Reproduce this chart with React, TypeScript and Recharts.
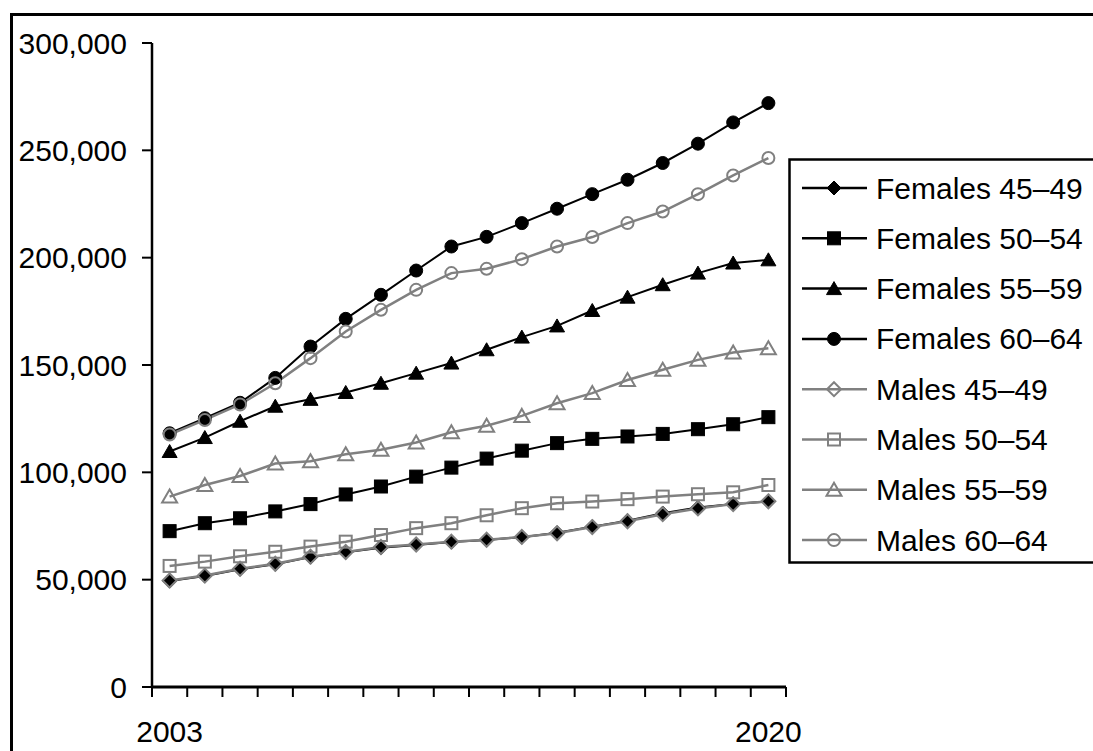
import { LineChart, Line, XAxis, YAxis } from 'recharts'

const years = [2003, 2004, 2005, 2006, 2007, 2008, 2009, 2010, 2011, 2012, 2013, 2014, 2015, 2016, 2017, 2018, 2019, 2020]
const yearLabels = [2003, 2020]
const yTicks = [0, 50000, 100000, 150000, 200000, 250000, 300000]

const females4549 = [49400, 51700, 54900, 57200, 60500, 62800, 64900, 66200, 67500, 68500, 69800, 71900, 74700, 77500, 81000, 83600, 85300, 86400]
const females5054 = [72600, 76300, 78600, 81800, 85200, 89700, 93400, 98000, 102200, 106400, 110100, 113600, 115600, 116700, 117900, 120100, 122400, 125700]
const females5559 = [109700, 116200, 123800, 130800, 134000, 137200, 141500, 146200, 150900, 157100, 163000, 168200, 175400, 181600, 187400, 192800, 197500, 199000]
const females6064 = [118200, 125200, 132400, 144000, 158600, 171500, 182700, 194000, 205200, 209700, 216100, 222800, 229600, 236300, 244100, 253100, 263000, 272000]
const males4549 = [49600, 51900, 55100, 57400, 60700, 62900, 65200, 66400, 67700, 68600, 69900, 71600, 74500, 77200, 80500, 83200, 85200, 86500]
const males5054 = [56400, 58400, 60900, 63000, 65400, 67700, 70800, 74000, 76300, 80000, 83300, 85600, 86400, 87500, 88700, 89800, 90700, 94100]
const males5559 = [88700, 94100, 98300, 104100, 105200, 108400, 110500, 113900, 118700, 121700, 126300, 132200, 136900, 143000, 147800, 152400, 155800, 157800]
const males6064 = [117600, 124400, 131600, 141500, 153200, 165600, 175700, 185000, 192800, 194800, 199300, 205200, 209600, 216100, 221500, 229600, 238300, 246400]

// tick marks sit between the years, like the category axis in the original
const xTickMarks = years.map((y) => y - 0.5).concat(years[years.length - 1] + 0.5)

const data = years.map((year, i) => ({
  year,
  f4549: females4549[i],
  f5054: females5054[i],
  f5559: females5559[i],
  f6064: females6064[i],
  m4549: males4549[i],
  m5054: males5054[i],
  m5559: males5559[i],
  m6064: males6064[i],
}))

const GRAY = '#808080'
const FONT = '"Liberation Sans", Arial, sans-serif'

const series = [
  { key: 'f4549', name: 'Females 45\u201349', color: '#000', shape: 'diamond', filled: true },
  { key: 'f5054', name: 'Females 50\u201354', color: '#000', shape: 'square', filled: true },
  { key: 'f5559', name: 'Females 55\u201359', color: '#000', shape: 'triangle', filled: true },
  { key: 'f6064', name: 'Females 60\u201364', color: '#000', shape: 'circle', filled: true },
  { key: 'm4549', name: 'Males 45\u201349', color: GRAY, shape: 'diamond', filled: false },
  { key: 'm5054', name: 'Males 50\u201354', color: GRAY, shape: 'square', filled: false },
  { key: 'm5559', name: 'Males 55\u201359', color: GRAY, shape: 'triangle', filled: false },
  { key: 'm6064', name: 'Males 60\u201364', color: GRAY, shape: 'circle', filled: false },
]

const Marker = ({ shape, cx, cy, color, filled }: any) => {
  const fill = filled ? color : 'none'
  const sw = filled ? 1 : 2
  if (shape === 'diamond') {
    const s = 7
    return <path d={`M${cx},${cy - s}L${cx + s},${cy}L${cx},${cy + s}L${cx - s},${cy}Z`} fill={fill} stroke={color} strokeWidth={sw} />
  }
  if (shape === 'square') {
    const s = filled ? 6.5 : 6
    return <rect x={cx - s} y={cy - s} width={s * 2} height={s * 2} fill={fill} stroke={color} strokeWidth={sw} />
  }
  if (shape === 'triangle') {
    return <path d={`M${cx},${cy - 7}L${cx + 7.5},${cy + 6}L${cx - 7.5},${cy + 6}Z`} fill={fill} stroke={color} strokeWidth={sw} />
  }
  return <circle cx={cx} cy={cy} r={filled ? 6.5 : 6} fill={fill} stroke={color} strokeWidth={sw} />
}

const fmt = (v: number) => v.toLocaleString('en-US')

const Legend = () => (
  <svg width={305} height={410} style={{ position: 'absolute', left: 788, top: 158 }}>
    <rect x={1.5} y={1.5} width={400} height={403} fill="#fff" stroke="#000" strokeWidth={2.5} />
    {series.map((s, i) => {
      const cy = 30 + i * 50.3
      return (
        <g key={s.key}>
          <line x1={14} x2={79} y1={cy} y2={cy} stroke={s.color} strokeWidth={2.5} />
          <Marker shape={s.shape} cx={46} cy={cy} color={s.color} filled={s.filled} />
          <text x={88} y={cy + 10.5} fontSize={30} fontFamily={FONT} fill="#000">
            {s.name}
          </text>
        </g>
      )
    })}
  </svg>
)

const App = () => {
  return (
    <div style={{ position: 'fixed', left: 0, top: 0, width: 1093, height: 751, overflow: 'hidden', background: '#fff' }}>
      <div
        style={{
          position: 'absolute',
          left: 10,
          top: 13,
          width: 1200,
          height: 1000,
          borderLeft: '3px solid #000',
          borderTop: '3px solid #000',
        }}
      />
      <div style={{ position: 'absolute', left: 0, top: 0 }}>
        <LineChart width={1093} height={751} data={data} margin={{ top: 43, right: 307, bottom: 0, left: 0 }}>
          <XAxis
            xAxisId="axisA"
            dataKey="year"
            type="number"
            domain={[2002.5, 2020.5]}
            allowDataOverflow
            ticks={xTickMarks}
            interval={0}
            height={30}
            axisLine={{ stroke: '#000', strokeWidth: 3 }}
            tickLine={{ stroke: '#000', strokeWidth: 2 }}
            tickSize={10}
            tickFormatter={() => ''}
          />
          <XAxis
            xAxisId="axisB"
            dataKey="year"
            type="number"
            domain={[2002.5, 2020.5]}
            allowDataOverflow
            ticks={yearLabels}
            interval={0}
            height={34}
            axisLine={false}
            tickLine={false}
            tickSize={0}
            tickMargin={4}
            tick={{ fill: '#000', fontSize: 30, fontFamily: FONT }}
          />
          <YAxis
            type="number"
            domain={[0, 300000]}
            ticks={yTicks}
            interval={0}
            width={152}
            tickFormatter={fmt}
            axisLine={{ stroke: '#000', strokeWidth: 2.5 }}
            tickLine={{ stroke: '#000', strokeWidth: 2 }}
            tickSize={10}
            tickMargin={15}
            tick={{ fill: '#000', fontSize: 30, fontFamily: FONT }}
          />
          {series.map((s) => (
            <Line
              key={s.key}
              xAxisId="axisA"
              type="linear"
              dataKey={s.key}
              name={s.name}
              stroke={s.color}
              strokeWidth={s.filled ? 2 : 2.5}
              isAnimationActive={false}
              activeDot={false}
              dot={(p: any) => (
                <Marker key={`${s.key}-${p.index}`} shape={s.shape} cx={p.cx} cy={p.cy} color={s.color} filled={s.filled} />
              )}
            />
          ))}
        </LineChart>
      </div>
      <Legend />
    </div>
  )
}

export default App
